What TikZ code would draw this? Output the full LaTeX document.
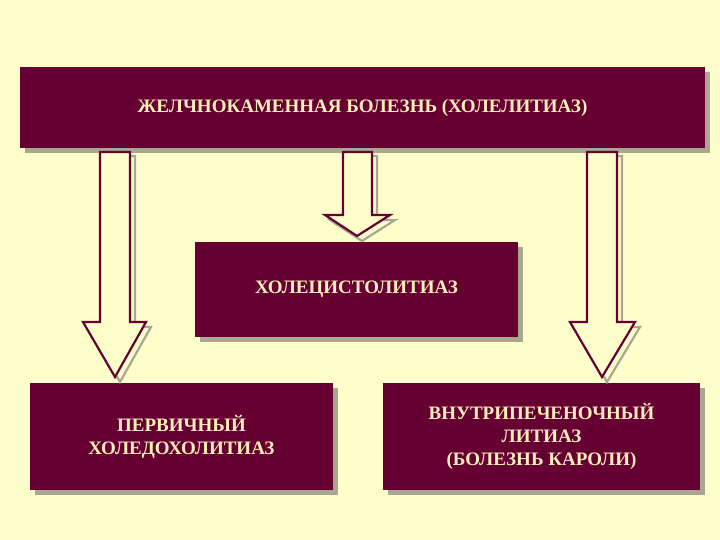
\documentclass[tikz,border=0pt]{standalone}
\usepackage{fontspec}
\setmainfont{Liberation Serif}
\definecolor{bg}{HTML}{FFFFCC}
\definecolor{maroon}{HTML}{660033}
\definecolor{txt}{HTML}{FFEFB8}
\definecolor{shd}{HTML}{A8A890}
\tikzset{
 box/.style={fill=maroon, text=txt, font=\bfseries\fontsize{19}{23}\selectfont, align=center, inner sep=0pt},
 arr/.style={draw=maroon, line width=2.2pt, fill=bg, line join=miter},
 arrshadow/.style={draw=shd, line width=2.2pt},
}
\begin{document}
\begin{tikzpicture}[x=1pt,y=-1pt]
\useasboundingbox[fill=bg] (0,0) rectangle (720,540);
% shadows of boxes
\fill[shd] (25,72) rectangle (710,153);
\fill[shd] (200,247) rectangle (523,342);
\fill[shd] (35,388) rectangle (338,495);
\fill[shd] (388,388) rectangle (705,495);
% boxes
\node[box, minimum width=685pt, minimum height=81pt] (top) at (362.5,107.5) {ЖЕЛЧНОКАМЕННАЯ БОЛЕЗНЬ (ХОЛЕЛИТИАЗ)};
\node[box, minimum width=323pt, minimum height=95pt] (mid) at (356.5,289.5) {ХОЛЕЦИСТОЛИТИАЗ};
\node[box, minimum width=303pt, minimum height=107pt] (left) at (181.5,436.5) {ПЕРВИЧНЫЙ\\ХОЛЕДОХОЛИТИАЗ};
\node[box, minimum width=317pt, minimum height=107pt] (right) at (541.5,436.5) {ВНУТРИПЕЧЕНОЧНЫЙ\\ЛИТИАЗ\\(БОЛЕЗНЬ КАРОЛИ)};
% arrow shadows
\draw[arrshadow] (105,156) -- (135,156) -- (135,327) -- (151,327) -- (120,382) -- (88,327) -- (105,327) -- cycle;
\draw[arrshadow] (348,156) -- (377,156) -- (377,220) -- (395,220) -- (362,241) -- (330,220) -- (348,220) -- cycle;
\draw[arrshadow] (592,156) -- (622,156) -- (622,327) -- (640,327) -- (607,382) -- (575,327) -- (592,327) -- cycle;
% arrows
\draw[arr] (100,152) -- (130,152) -- (130,322) -- (146,322) -- (115,377) -- (83,322) -- (100,322) -- cycle;
\draw[arr] (343,152) -- (372,152) -- (372,215) -- (390,215) -- (357,236) -- (325,215) -- (343,215) -- cycle;
\draw[arr] (587,152) -- (617,152) -- (617,322) -- (635,322) -- (602,377) -- (570,322) -- (587,322) -- cycle;
\end{tikzpicture}
\end{document}
